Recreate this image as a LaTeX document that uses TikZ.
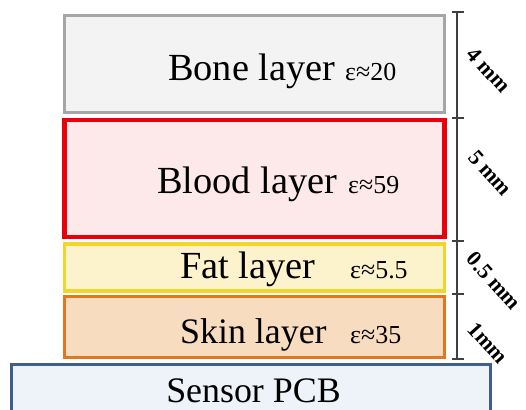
\documentclass[tikz,border=0pt]{standalone}
\usepackage{fontspec}
\setmainfont{Liberation Serif}
\usepackage{tikz}
\usetikzlibrary{positioning,calc}
\definecolor{bonedraw}{HTML}{A6A6A6}
\definecolor{bonefill}{HTML}{F3F3F3}
\definecolor{blooddraw}{HTML}{E8000B}
\definecolor{bloodfill}{HTML}{FDE9EA}
\definecolor{fatdraw}{HTML}{F2D52A}
\definecolor{fatfill}{HTML}{FCF2CB}
\definecolor{skindraw}{HTML}{E3761E}
\definecolor{skinfill}{HTML}{F8DCC0}
\definecolor{pcbdraw}{HTML}{3F5E8C}
\definecolor{pcbfill}{HTML}{EEF2F9}
\tikzset{
    layer/.style={draw,line width=3.5bp,inner sep=0pt,minimum width=380bp},
    lbl/.style={inner sep=0pt,font=\fontsize{36}{40}\selectfont},
    biglbl/.style={inner sep=0pt,font=\fontsize{38.5}{42}\selectfont},
    eps/.style={inner sep=0pt,font=\fontsize{26}{29}\selectfont},
    mm/.style={inner sep=0pt,rotate=-48,font=\bfseries\fontsize{22}{24}\selectfont},
    scalebar/.style={line width=1.3bp,draw=black!75}
}

\begin{document}
\begin{tikzpicture}[x=1bp,y=-1bp]
    \useasboundingbox (0,0) rectangle (526,409);
    \clip (0,0) rectangle (526,409);
    % tissue layers
    \node[layer,draw=bonedraw,fill=bonefill,minimum height=97bp,line width=3bp] (bone) at (254.5,63.5) {};
    \node[layer,draw=blooddraw,fill=bloodfill,minimum height=117bp,line width=4.5bp] (blood) at (254.5,178.5) {};
    \node[layer,draw=fatdraw,fill=fatfill,minimum height=47bp] (fat) at (254.5,267.5) {};
    \node[layer,draw=skindraw,fill=skinfill,minimum height=61bp] (skin) at (254.5,327) {};
    \node[layer,draw=pcbdraw,fill=pcbfill,minimum width=479bp,minimum height=60bp,line width=3bp] (pcb) at (251,394) {};
    % labels
    \node[biglbl,anchor=base west] (bonetxt) at (168,80) {Bone layer};
    \node[eps,anchor=base west] (boneeps) at (345,80) {ε≈20};
    \node[biglbl,anchor=base west] (bloodtxt) at (157,193) {Blood layer};
    \node[eps,anchor=base west] (bloodeps) at (348,193) {ε≈59};
    \node[biglbl,anchor=base west] (fattxt) at (180,278) {Fat layer};
    \node[eps,anchor=base west] (fateps) at (350,278) {ε≈5.5};
    \node[lbl,anchor=base west] (skintxt) at (180,343) {Skin layer};
    \node[eps,anchor=base west] (skineps) at (350,343) {ε≈35};
    \node[lbl,anchor=base] (pcbtxt) at (253.5,402) {Sensor PCB};
    % thickness scale
    \coordinate (t0) at (457,12);
    \coordinate (t1) at (457,118);
    \coordinate (t2) at (457,241);
    \coordinate (t3) at (457,294);
    \coordinate (t4) at (457,359);
    \draw[scalebar] (t0) -- (t4);
    \foreach \t in {t0,t1,t2,t3,t4}
        \draw[scalebar] ($(\t)+(-5,0)$) -- ($(\t)+(7,0)$);
    \node[mm] (d4) at (489,70) {4 mm};
    \node[mm] (d5) at (490,173) {5 mm};
    \node[mm] (d05) at (494,281) {0.5 mm};
    \node[mm] (d1) at (488,343) {1mm};
\end{tikzpicture}
\end{document}
